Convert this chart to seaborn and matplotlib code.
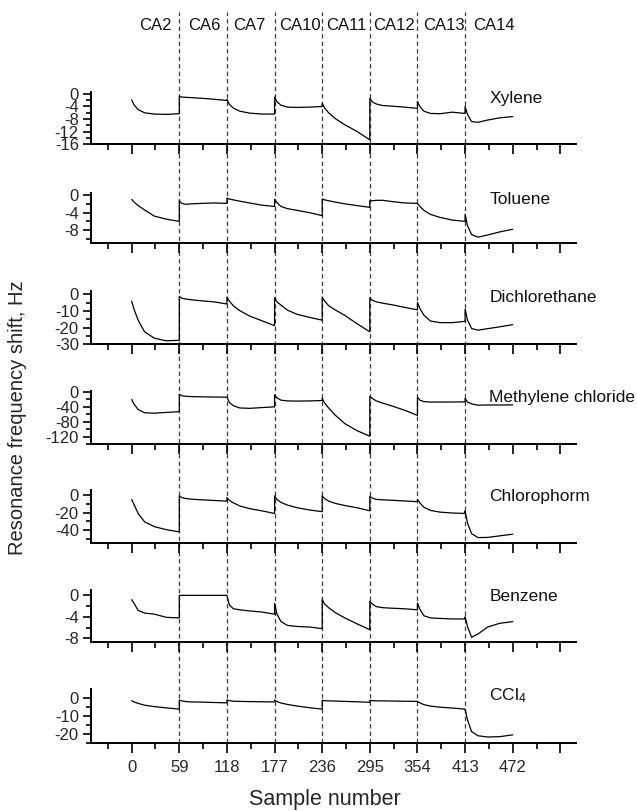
import matplotlib
matplotlib.use("Agg")
import matplotlib.pyplot as plt
import pandas as pd
import seaborn as sns

# ---- data -----------------------------------------------------------------
sensors = ["CA2", "CA6", "CA7", "CA10", "CA11", "CA12", "CA13", "CA14"]
sensor_edges = [59, 118, 177, 236, 295, 354, 413]
sample_ticks = [0, 59, 118, 177, 236, 295, 354, 413, 472]

# sample numbers of the recorded points (each sensor block restarts at its edge)
sample = [0, 3, 8, 16, 28, 43, 59,
          59, 62, 67, 75, 87, 102, 118,
          118, 121, 126, 134, 146, 161, 177,
          177, 180, 185, 193, 205, 220, 236,
          236, 239, 244, 252, 264, 279, 295,
          295, 298, 303, 311, 323, 338, 354,
          354, 357, 362, 370, 382, 397, 413,
          413, 416, 421, 429, 441, 456, 472]

xylene = [-1.9, -3.5, -5.0, -6.0, -6.4, -6.5, -6.3,
          -0.8, -1.0, -1.1, -1.2, -1.4, -1.7, -2.1,
          -1.8, -3.3, -4.5, -5.5, -6.1, -6.4, -6.4,
          -1.0, -2.5, -3.6, -4.2, -4.3, -4.2, -4.0,
          -3.0, -4.5, -6.0, -7.8, -9.8, -11.9, -14.6,
          -1.4, -2.5, -3.2, -3.7, -3.9, -4.2, -4.6,
          -2.4, -4.0, -5.5, -6.2, -6.3, -5.8, -6.2,
          -4.0, -6.5, -8.8, -9.0, -8.3, -7.6, -7.2]

toluene = [-1.0, -1.6, -2.4, -3.4, -4.8, -5.5, -6.0,
           -1.3, -1.9, -2.1, -2.0, -1.9, -1.8, -1.9,
           -0.7, -0.9, -1.1, -1.4, -1.8, -2.3, -2.6,
           -1.0, -1.7, -2.6, -3.1, -3.5, -4.0, -4.7,
           -0.9, -1.1, -1.3, -1.6, -2.0, -2.4, -2.8,
           -1.3, -1.3, -1.2, -1.2, -1.5, -1.8, -1.9,
           -1.9, -2.6, -3.5, -4.4, -5.1, -5.7, -6.0,
           -4.4, -7.0, -9.0, -9.6, -9.1, -8.4, -7.8]

dichlorethane = [-4.1, -9.0, -15.5, -22.5, -26.3, -27.9, -27.6,
                 -1.2, -2.3, -2.8, -3.3, -3.9, -4.5, -5.8,
                 -1.7, -4.0, -6.9, -9.8, -13.0, -15.8, -18.8,
                 -2.1, -4.5, -6.5, -9.5, -12.0, -13.8, -15.5,
                 -1.7, -4.0, -6.8, -9.3, -12.6, -17.6, -22.5,
                 -2.1, -3.5, -4.5, -5.3, -6.3, -7.8, -9.3,
                 -4.8, -8.5, -12.5, -16.0, -17.0, -17.0, -16.2,
                 -8.9, -15.5, -20.5, -21.5, -20.6, -19.5, -18.2]

methylene_chloride = [-20, -33, -47, -56, -57, -55, -53,
                      -6, -10, -11.5, -12.5, -13, -13.5, -14,
                      -14, -28, -37, -43, -44, -42, -40,
                      -8, -16, -22, -24, -24.5, -24, -23,
                      -17, -30, -43, -62, -85, -104, -119,
                      -12, -17, -24, -30, -38, -49, -63,
                      -14, -22, -26, -27, -27, -27, -26.5,
                      -17, -27, -32, -35.5, -35, -35, -34.7]

chlorophorm = [-5, -11, -21, -30.5, -36, -39.5, -42,
               -1, -3, -4, -4.8, -5.5, -6.2, -7,
               -3, -6, -9, -12.5, -15.5, -18, -21,
               -1, -5, -8.5, -11.5, -14.5, -17, -19,
               -1, -4, -7, -9.5, -12, -14.5, -18,
               -1.5, -3.5, -5, -5.5, -6, -6.8, -7.6,
               -5, -9, -14, -17.5, -19.5, -20.5, -21,
               -18, -32, -44, -48.5, -48.3, -46.5, -44.6]

benzene = [-0.8, -1.5, -2.8, -3.3, -3.5, -4.1, -4.2,
           0.0, 0.0, 0.0, 0.0, 0.0, 0.0, 0.0,
           0.0, -1.8, -2.5, -2.7, -2.9, -3.1, -3.5,
           -1.5, -3.5, -4.9, -5.6, -5.8, -5.9, -6.2,
           -0.8, -1.6, -2.3, -3.2, -4.2, -5.3, -6.4,
           -1.1, -1.6, -2.1, -2.3, -2.4, -2.5, -2.7,
           -1.4, -2.6, -3.8, -4.2, -4.3, -4.4, -4.4,
           -4.0, -5.8, -7.8, -7.2, -5.9, -5.2, -4.9]

ccl4 = [-1.3, -2.0, -2.8, -3.8, -4.6, -5.3, -6.0,
        -0.9, -1.4, -1.8, -2.0, -2.1, -2.3, -2.5,
        -0.9, -1.3, -1.6, -1.7, -1.8, -1.9, -2.0,
        -0.9, -1.8, -2.6, -3.4, -4.3, -5.2, -6.0,
        -1.1, -1.3, -1.4, -1.5, -1.7, -1.9, -2.2,
        -1.1, -1.3, -1.4, -1.4, -1.5, -1.6, -1.7,
        -1.7, -2.5, -3.5, -4.3, -4.9, -5.4, -6.0,
        -6.2, -12.0, -18.5, -20.8, -21.5, -21.3, -20.3]

solvents = ["Xylene", "Toluene", "Dichlorethane", "Methylene chloride",
            "Chlorophorm", "Benzene", "CCl$_4$"]
shifts = [xylene, toluene, dichlorethane, methylene_chloride,
          chlorophorm, benzene, ccl4]

frames = []
for name, vals in zip(solvents, shifts):
    frames.append(pd.DataFrame({"sample": sample, "shift": vals, "solvent": name}))
df = pd.concat(frames, ignore_index=True)

# ---- axis settings per panel: (ylim, major ticks, minor ticks) -------------
panel_axes = [
    ((-16, 0.6), [0, -4, -8, -12, -16], [-2, -6, -10, -14]),
    ((-11, 0.4), [0, -4, -8], [-2, -6, -10]),
    ((-30, 2.2), [0, -10, -20, -30], [-5, -15, -25]),
    ((-140, 3.5), [0, -40, -80, -120], [-20, -60, -100, -140]),
    ((-55, 5.7), [0, -20, -40], [-10, -30, -50]),
    ((-8.75, 1.0), [0, -4, -8], [-2, -6]),
    ((-25, 5.2), [0, -10, -20], [-5, -15, -25]),
]

# ---- style ----------------------------------------------------------------
sns.set_theme(style="ticks")
plt.rcParams["font.family"] = ["Liberation Sans", "DejaVu Sans"]
plt.rcParams["mathtext.default"] = "regular"

W, H = 637, 811
fig = plt.figure(figsize=(W / 100, H / 100), dpi=100)
fig.patch.set_facecolor("white")

X_LEFT, X_RIGHT = 91.3, 575.7
XLIM = (-50, 550)
panel_px = [(92, 144.3), (193.3, 243.3), (290.7, 344.3), (390.7, 444),
            (490, 543.3), (590, 642.3), (689, 743.3)]


def box(top, bottom):
    return [X_LEFT / W, 1 - bottom / H, (X_RIGHT - X_LEFT) / W, (bottom - top) / H]


# dashed separators between sensors and the sensor names across the top
overlay = fig.add_axes(box(12, 743.3))
overlay.set_xlim(*XLIM)
overlay.set_ylim(0, 1)
overlay.axis("off")
for edge in sensor_edges:
    overlay.axvline(edge, color="#3a3a3a", lw=0.9, ls=(0, (3.5, 2.5)), zorder=0)
label_x = [28.8, 90.2, 145.6, 209, 265.4, 325.4, 386.3, 449.2]
label_y = (743.3 - 25) / (743.3 - 12)
for name, xc in zip(sensors, label_x):
    overlay.text(xc, label_y, name, ha="center", va="center", fontsize=12,
                 color="#111111")

minor_x = [-29.5 + 59 * k for k in range(10)]
major_x = sample_ticks + [531]

for i, (name, (ylim, ymaj, ymin)) in enumerate(zip(solvents, panel_axes)):
    ax = fig.add_axes(box(*panel_px[i]))
    ax.patch.set_alpha(0)
    sns.lineplot(data=df[df["solvent"] == name], x="sample", y="shift",
                 sort=False, estimator=None, color="black", lw=0.9,
                 ax=ax, legend=False)
    ax.set_xlim(*XLIM)
    ax.set_ylim(*ylim)
    ax.set_yticks(ymaj)
    ax.set_yticklabels([f"{v:g}" for v in ymaj])
    ax.set_yticks(ymin, minor=True)
    ax.set_xticks(major_x)
    ax.set_xticks(minor_x, minor=True)
    if i == len(solvents) - 1:
        ax.set_xticklabels([str(v) for v in sample_ticks] + [""])
        ax.set_xlabel("Sample number", fontsize=15.5)
        bottom, top = panel_px[i][1], panel_px[i][0]
        ax.xaxis.set_label_coords((325 - X_LEFT) / (X_RIGHT - X_LEFT),
                                  -(789 - bottom) / (bottom - top))
    else:
        ax.set_xticklabels([])
        ax.set_xlabel("")
    ax.set_ylabel("")
    for side in ("top", "right"):
        ax.spines[side].set_visible(False)
    for side in ("left", "bottom"):
        ax.spines[side].set_linewidth(1.4)
        ax.spines[side].set_color("black")
    ax.tick_params(axis="y", which="major", direction="out", length=6, width=1.2,
                   labelsize=12, pad=3, color="black")
    ax.tick_params(axis="y", which="minor", direction="out", length=3.5, width=1.2,
                   color="black")
    ax.tick_params(axis="x", which="major", direction="out", length=7, width=1.2,
                   labelsize=12, pad=5, color="black")
    ax.tick_params(axis="x", which="minor", direction="out", length=4, width=1.2,
                   color="black")
    ax.text(443, 0.88, name, transform=ax.get_xaxis_transform(),
            ha="left", va="center", fontsize=12.5, color="#111111")

fig.text(18 / W, 1 - 418 / H, "Resonance frequency shift, Hz", rotation=90,
         ha="center", va="center", fontsize=14.5)

fig.savefig("out.png", dpi=100, facecolor="white")
